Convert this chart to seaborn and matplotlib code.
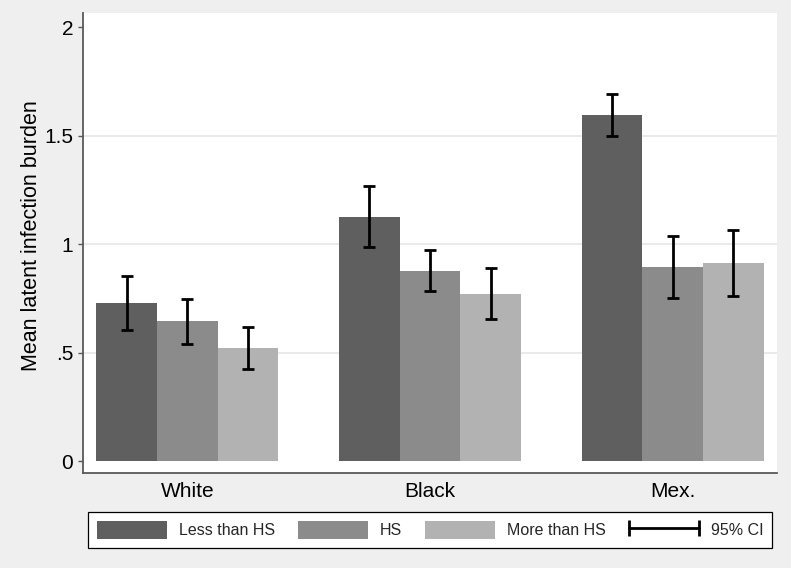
import numpy as np
import pandas as pd
import matplotlib
matplotlib.use("Agg")
import matplotlib.pyplot as plt
import seaborn as sns
from matplotlib.patches import Patch
from matplotlib.lines import Line2D
from matplotlib.legend_handler import HandlerLine2D
from matplotlib.container import BarContainer

# ---- data ----
races = ["White", "Black", "Mex."]
edu_levels = ["Less than HS", "HS", "More than HS"]
mean_less = [0.727, 1.124, 1.596]
mean_hs = [0.644, 0.876, 0.893]
mean_more = [0.521, 0.770, 0.914]
lo_less = [0.604, 0.986, 1.496]
hi_less = [0.854, 1.267, 1.691]
lo_hs = [0.539, 0.783, 0.753]
hi_hs = [0.748, 0.972, 1.037]
lo_more = [0.424, 0.654, 0.760]
hi_more = [0.617, 0.889, 1.066]
y_ticks = [0, 0.5, 1, 1.5, 2]
y_ticklabels = ["0", ".5", "1", "1.5", "2"]
grid_vals = [0.5, 1, 1.5]
y_label = "Mean latent infection burden"
ci_label = "95% CI"

colors = ["#5F5F5F", "#8B8B8B", "#B2B2B2"]
bg = "#EFEFEF"

means = [mean_less, mean_hs, mean_more]
los = [lo_less, lo_hs, lo_more]
his = [hi_less, hi_hs, hi_more]

rows = []
for e, m in zip(edu_levels, means):
    for r, v in zip(races, m):
        rows.append({"race": r, "edu": e, "mean": v})
df = pd.DataFrame(rows)

sns.set_theme(style="white")
plt.rcParams["font.family"] = ["Liberation Sans", "DejaVu Sans"]

fig = plt.figure(figsize=(7.91, 5.68), dpi=100, facecolor=bg)
ax = fig.add_axes([83 / 791, 1 - 473 / 568, 694 / 791, 460 / 568])
ax.set_facecolor("white")

for g in grid_vals:
    ax.axhline(g, color="#E4E4E4", lw=1.1, zorder=0)

sns.barplot(data=df, x="race", y="mean", hue="edu", order=races,
            hue_order=edu_levels, palette=colors, saturation=1,
            width=0.75, errorbar=None, legend=False, linewidth=0, ax=ax,
            zorder=2)

# error bars from the bar containers
bar_conts = [c for c in ax.containers if isinstance(c, BarContainer)]
for h, cont in enumerate(bar_conts):
    xs = [p.get_x() + p.get_width() / 2 for p in cont.patches]
    ys = np.array([p.get_height() for p in cont.patches])
    lo = np.array(los[h])
    hi = np.array(his[h])
    ax.errorbar(xs, ys, yerr=[ys - lo, hi - ys],
                fmt="none", ecolor="black", elinewidth=2.0, capsize=4,
                capthick=2.0, zorder=3)

ax.set_xlim(-0.43, 2.43)
ax.set_ylim(-0.055, 2.065)
ax.set_yticks(y_ticks)
ax.set_yticklabels(y_ticklabels)
ax.set_xlabel("")
ax.set_ylabel(y_label, fontsize=15.5, color="black")
ax.yaxis.set_label_coords(-0.059, 0.515)

for s in ["top", "right"]:
    ax.spines[s].set_visible(False)
for s in ["left", "bottom"]:
    ax.spines[s].set_color("#595959")
    ax.spines[s].set_linewidth(1.3)

ax.tick_params(axis="y", which="both", left=True, length=3.6, width=1,
               color="#595959", labelsize=15, labelcolor="black", pad=3.5)
ax.tick_params(axis="x", which="both", bottom=False, length=0,
               labelsize=15, labelcolor="black", pad=6.5)

handles = [Patch(facecolor=c, edgecolor="none") for c in colors]
ci_handle = Line2D([0], [0], color="black", lw=2, marker="|",
                   markersize=11, markeredgewidth=2)
handles.append(ci_handle)
labels = edu_levels + [ci_label]
leg = fig.legend(handles, labels, loc="center",
                 bbox_to_anchor=((83 + 777) / 2 / 791, 1 - 530 / 568),
                 ncol=4, fontsize=11.5, frameon=True, fancybox=False,
                 framealpha=1, facecolor="white", edgecolor="black",
                 handlelength=4.38, handleheight=1.31, handletextpad=0.75,
                 columnspacing=1.44, borderpad=0.55, numpoints=2,
                 handler_map={ci_handle: HandlerLine2D(marker_pad=0, numpoints=2)})
leg.get_frame().set_linewidth(0.9)

fig.savefig("out.png", dpi=100, facecolor=bg)
